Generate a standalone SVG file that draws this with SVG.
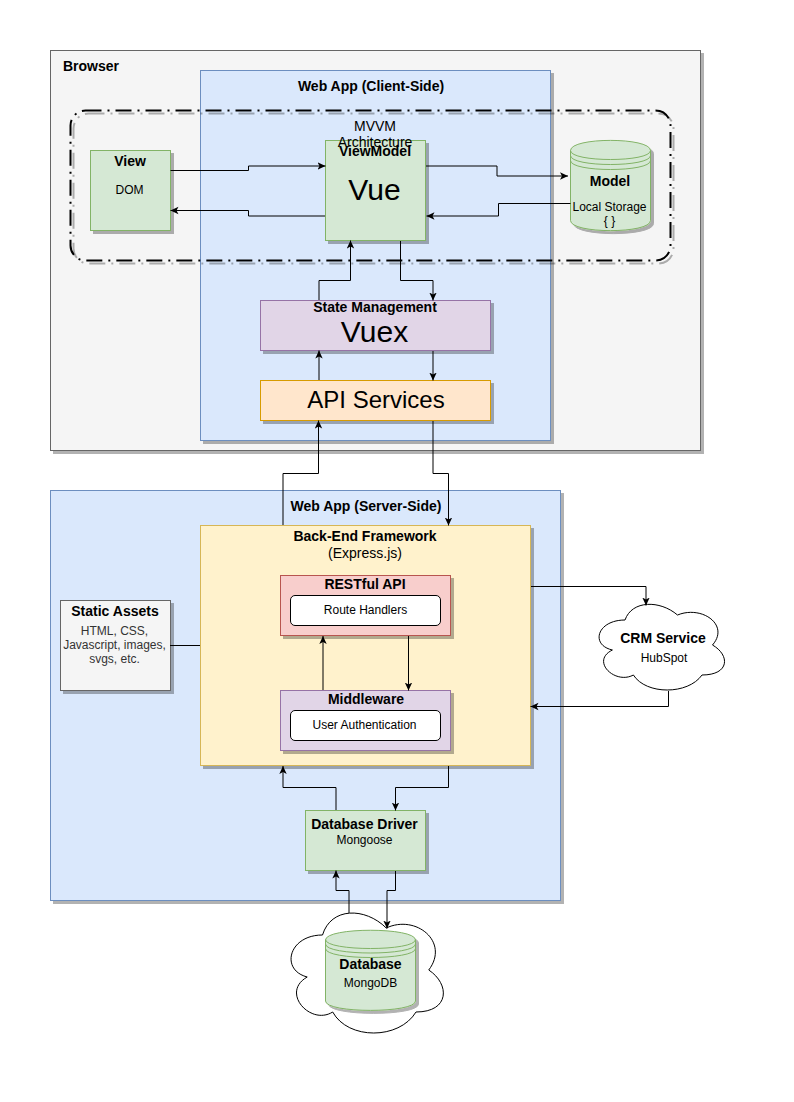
<svg xmlns="http://www.w3.org/2000/svg" width="794" height="1102" viewBox="0 0 794 1102">
<style>
text{font-family:"Liberation Sans",Arial,Helvetica,sans-serif;fill:#000;text-anchor:middle;font-size:12px}
.b{font-size:14px;font-weight:bold}
.m{font-size:14px}
.big{font-size:30px}
.api{font-size:24px}
.dk{fill:#333}
.gr{fill:#d5e8d4;stroke:#82b366}
.bl{fill:#dae8fc;stroke:#6c8ebf}
.pu{fill:#e1d5e7;stroke:#9673a6}
.s{filter:url(#sh)}
.wh{fill:#fff;stroke:#000}
.ln{fill:none;stroke:#82b366}
#edges path{fill:none;stroke:#000;stroke-width:1}
.ar{marker-end:url(#a)}
</style>
<defs>
<filter id="sh" x="-10%" y="-10%" width="120%" height="120%"><feDropShadow dx="3" dy="3" stdDeviation="0" flood-color="#000" flood-opacity="0.3"/></filter>
<marker id="a" markerUnits="userSpaceOnUse" markerWidth="9" markerHeight="9" refX="8" refY="4" orient="auto"><path d="M0 0.300L8 4L0 7.700L2 4Z" fill="#000"/></marker>
</defs>
<g id="browser"><rect class="s" x="50.500" y="50.500" width="650" height="400" fill="#f5f5f5" stroke="#666"/><text class="b" x="91" y="71">Browser</text></g>
<g id="client"><rect class="s bl" x="200.500" y="70.500" width="350" height="370"/><text class="b" x="371" y="91">Web App (Client-Side)</text></g>
<g id="mvvm"><rect class="s" x="70.500" y="110.500" width="600" height="150" rx="15" fill="none" stroke="#000" stroke-width="2" stroke-dasharray="16 6 2 6"/></g>
<g id="view"><rect class="s gr" x="90.500" y="150.500" width="80" height="80"/><text class="b" x="130" y="166">View</text><text x="129.500" y="194">DOM</text></g>
<g id="viewmodel"><rect class="s gr" x="325.500" y="140.500" width="100" height="100"/><text class="b" x="375" y="156">ViewModel</text><text class="big" x="374.500" y="200">Vue</text></g>
<g id="mvvm-label"><text class="m" x="375" y="131">MVVM</text><text class="m" x="375" y="147">Architecture</text></g>
<g id="model"><path class="s gr" d="M570.500 150.500C570.500 137 650.500 137 650.500 150.500V220.500C650.500 234 570.500 234 570.500 220.500Z"/><path class="ln" d="M570.500 150.500C570.500 162.500 650.500 162.500 650.500 150.500M570.500 155.500C570.500 167.500 650.500 167.500 650.500 155.500M570.500 160.500C570.500 172.500 650.500 172.500 650.500 160.500"/><text class="b" x="610" y="186">Model</text><text x="609.500" y="211">Local Storage</text><text x="609.500" y="225">{ }</text></g>
<g id="vuex"><rect class="s pu" x="260.500" y="300.500" width="230" height="50"/><text class="b" x="375" y="312">State Management</text><text class="big" x="374.500" y="342">Vuex</text></g>
<g id="api"><rect class="s" x="260.500" y="380.500" width="230" height="40" fill="#ffe6cc" stroke="#d79b00"/><text class="api" x="376" y="408">API Services</text></g>
<g id="server"><rect class="s bl" x="50.500" y="490.500" width="510" height="410"/><text class="b" x="366" y="511">Web App (Server-Side)</text></g>
<g id="backend"><rect class="s" x="200.500" y="525.500" width="330" height="240" fill="#fff2cc" stroke="#d6b656"/><text class="b" x="365" y="541">Back-End Framework</text><text class="m" x="365" y="558">(Express.js)</text></g>
<g id="static"><rect class="s" x="60.500" y="600.500" width="110" height="90" fill="#f5f5f5" stroke="#666"/><text class="b" x="115" y="616">Static Assets</text><text class="dk" x="114.500" y="635">HTML, CSS,</text><text class="dk" x="114.500" y="649">Javascript, images,</text><text class="dk" x="114.500" y="663">svgs, etc.</text></g>
<g id="rest"><rect class="s" x="280.500" y="575.500" width="170" height="60" fill="#f8cecc" stroke="#b85450"/><text class="b" x="365" y="589">RESTful API</text><rect class="wh" x="290.500" y="595.500" width="150" height="30" rx="4.500"/><text x="365.500" y="614">Route Handlers</text></g>
<g id="middleware"><rect class="s pu" x="280.500" y="690.500" width="170" height="60"/><text class="b" x="366" y="704">Middleware</text><rect class="wh" x="290.500" y="710.500" width="150" height="30" rx="4.500"/><text x="364.500" y="729">User Authentication</text></g>
<g id="driver"><rect class="s gr" x="305.500" y="810.500" width="120" height="60"/><text class="b" x="364.500" y="829">Database Driver</text><text x="364.500" y="844">Mongoose</text></g>
<g id="crm"><path d="M625 620C597 620 590 645 612.400 650C590 661 615.200 685 633.400 675C646 695 688 695 702 675C730 675 730 655 712.500 645C730 625 702 605 677.500 615C660 600 632 600 625 620Z" fill="#fff" stroke="#000"/><text class="b" x="663" y="643">CRM Service</text><text x="664" y="662">HubSpot</text></g>
<g id="dbcloud"><path d="M322.500 935C288.500 935 280 970 307.200 977C280 992.400 310.600 1026 332.700 1012C348 1040 399 1040 416 1012C450 1012 450 984 428.750 970C450 942 416 914 386.250 928C365 907 331 907 322.500 935Z" fill="#fff" stroke="#000"/></g>
<g id="database"><path class="s gr" d="M325.500 940C325.500 927 415.500 927 415.500 940V1001C415.500 1013.500 325.500 1013.500 325.500 1001Z"/><path class="ln" d="M325.500 939.500C325.500 951.500 415.500 951.500 415.500 939.500M325.500 944C325.500 956 415.500 956 415.500 944M325.500 948.500C325.500 960.500 415.500 960.500 415.500 948.500"/><text class="b" x="370.500" y="969">Database</text><text x="370.500" y="987">MongoDB</text></g>
<g id="edges">
<path class="ar" d="M170.500 170.500H248.500V166H325.500"/>
<path class="ar" d="M325 216H248.500V210.500H170.500"/>
<path class="ar" d="M426 166H497V176H568"/>
<path class="ar" d="M570.500 203.500H498.500V216H426.500"/>
<path class="ar" d="M400.500 241V280.500H433V300.500"/>
<path class="ar" d="M319 300V280.500H350.500V240.500"/>
<path class="ar" d="M433 351V380.500"/>
<path class="ar" d="M319 380V350.500"/>
<path class="ar" d="M433 421V473.500H448.500V525.500"/>
<path class="ar" d="M283 525V473.500H318.500V420.500"/>
<path class="ar" d="M531 586.500H646V605.500"/>
<path class="ar" d="M668.500 691V706.500H530.500"/>
<path class="ar" d="M408.500 636V690.500"/>
<path class="ar" d="M323 690V636"/>
<path d="M170 645.500H200"/>
<path class="ar" d="M448.500 766V787.500H395.500V810.500"/>
<path class="ar" d="M336 810V787.500H283V766"/>
<path class="ar" d="M395.500 871V890.500H387V928.500"/>
<path class="ar" d="M349 913V890.500H336V870.500"/>
</g>
</svg>
